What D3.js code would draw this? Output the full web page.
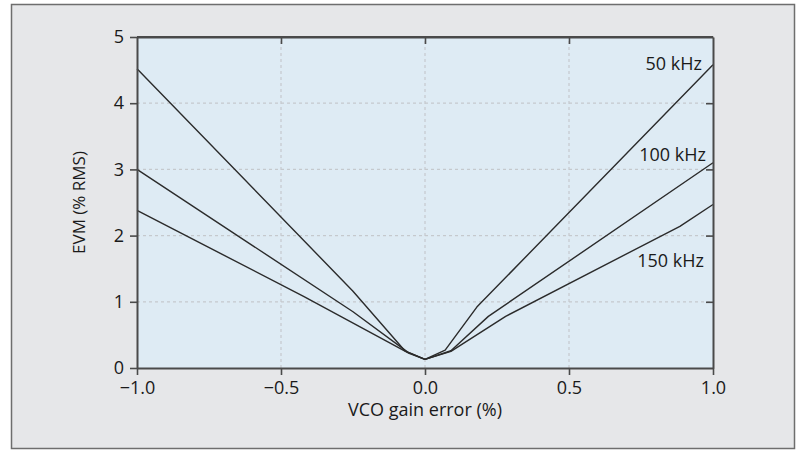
<!DOCTYPE html>
<html>
<head>
<meta charset="utf-8">
<script src="https://cdn.jsdelivr.net/npm/d3@7"></script>
<style>
  html, body { margin: 0; padding: 0; background: #ffffff; }
  svg { display: block; }
  text { font-family: "Open Sans", "Noto Sans", sans-serif; fill: #1a1a1a; }
</style>
</head>
<body>
<svg id="chart" width="798" height="451"></svg>
<script>
// ---- data ----
const seriesNames = ["50 kHz", "100 kHz", "150 kHz"];
const x50  = [-1, -0.25, -0.07, 0, 0.07, 0.18, 1];
const y50  = [4.52, 1.16, 0.26, 0.13, 0.27, 0.92, 4.58];
const x100 = [-1, -0.25, -0.06, 0, 0.09, 0.22, 1];
const y100 = [3.0, 0.85, 0.24, 0.13, 0.26, 0.78, 3.10];
const x150 = [-1, -0.42, -0.055, 0, 0.09, 0.28, 0.885, 1];
const y150 = [2.38, 1.08, 0.22, 0.13, 0.25, 0.78, 2.14, 2.47];
const xTicks = [-1.0, -0.5, 0.0, 0.5, 1.0];
const yTicks = [0, 1, 2, 3, 4, 5];
const xLabel = "VCO gain error (%)";
const yLabel = "EVM (% RMS)";
// label anchor values (data units)
const labelY = [4.5, 3.13, 1.52];

const svg = d3.select("#chart");
const W = 798, H = 451;
const m = {left: 137, right: 85, top: 37, bottom: 83};
const pw = W - m.left - m.right, ph = H - m.top - m.bottom;

// outer panel
svg.append("rect").attr("x", 11.5).attr("y", 4.5).attr("width", 783).attr("height", 444)
  .attr("fill", "#e6e7e9").attr("stroke", "#6e6e6e").attr("stroke-width", 1.5);

const x = d3.scaleLinear().domain([-1, 1]).range([m.left, m.left + pw]);
const y = d3.scaleLinear().domain([0, 5]).range([m.top + ph, m.top]);

// plot background
svg.append("rect").attr("x", x(-1)).attr("y", y(5)).attr("width", x(1) - x(-1)).attr("height", y(0) - y(5))
  .attr("fill", "#deebf4");

// grid
const g = svg.append("g");
g.selectAll("line.vg").data(xTicks.slice(1, -1)).join("line")
  .attr("x1", d => x(d)).attr("x2", d => x(d)).attr("y1", y(0)).attr("y2", y(5))
  .attr("stroke", "#c5c9cd").attr("stroke-width", 1.2).attr("stroke-dasharray", "3,3");
g.selectAll("line.hg").data(yTicks.slice(1, -1)).join("line")
  .attr("y1", d => y(d)).attr("y2", d => y(d)).attr("x1", x(-1)).attr("x2", x(1))
  .attr("stroke", "#c5c9cd").attr("stroke-width", 1.2).attr("stroke-dasharray", "3,3");

// series lines
const data = [
  x50.map((v, i) => [v, y50[i]]),
  x100.map((v, i) => [v, y100[i]]),
  x150.map((v, i) => [v, y150[i]])
];
const line = d3.line().x(d => x(d[0])).y(d => y(d[1]));
svg.append("g").selectAll("path").data(data).join("path")
  .attr("d", line).attr("fill", "none").attr("stroke", "#2b2b2b").attr("stroke-width", 1.4)
  .attr("stroke-linejoin", "round");

// axes
const fmtX = d => d3.format(".1f")(d).replace("-", "\u2212");
const axisColor = "#4a4a4a";
function styleAxis(sel, showText) {
  sel.select(".domain").attr("stroke", axisColor).attr("stroke-width", 2);
  sel.selectAll(".tick line").attr("stroke", axisColor).attr("stroke-width", 1.6);
  sel.selectAll(".tick text").style("font-size", "18px").attr("fill", "#1a1a1a");
  if (!showText) sel.selectAll(".tick text").remove();
}
const xb = svg.append("g").attr("transform", `translate(0,${y(0)})`)
  .call(d3.axisBottom(x).tickValues(xTicks).tickFormat(fmtX).tickSize(7).tickPadding(6).tickSizeOuter(0));
styleAxis(xb, true);
const xt = svg.append("g").attr("transform", `translate(0,${y(5)})`)
  .call(d3.axisBottom(x).tickValues(xTicks.slice(1, -1)).tickSize(7).tickSizeOuter(0));
styleAxis(xt, false);
const yl = svg.append("g").attr("transform", `translate(${x(-1)},0)`)
  .call(d3.axisLeft(y).tickValues(yTicks).tickFormat(d3.format("d")).tickSize(7).tickPadding(6).tickSizeOuter(0));
styleAxis(yl, true);
const yr = svg.append("g").attr("transform", `translate(${x(1)},0)`)
  .call(d3.axisLeft(y).tickValues(yTicks.slice(1, -1)).tickSize(-7).tickSizeOuter(0));
yr.selectAll(".tick line").attr("x2", -7);
styleAxis(yr, false);
// top border
svg.append("line").attr("x1", x(-1)).attr("x2", x(1)).attr("y1", y(5)).attr("y2", y(5))
  .attr("stroke", axisColor).attr("stroke-width", 2);

// series labels
const labOff = [11, 7, 9];
svg.append("g").selectAll("text").data(seriesNames).join("text")
  .attr("x", (d, i) => x(1) - labOff[i]).attr("y", (d, i) => y(labelY[i]))
  .attr("text-anchor", "end").style("font-size", "18px").text(d => d);

// axis titles
svg.append("text").attr("x", (x(-1) + x(1)) / 2).attr("y", 416)
  .attr("text-anchor", "middle").style("font-size", "18px").text(xLabel);
svg.append("text").attr("transform", `translate(85,${(y(0) + y(5)) / 2}) rotate(-90)`)
  .attr("text-anchor", "middle").style("font-size", "17px").text(yLabel);
</script>
</body>
</html>
